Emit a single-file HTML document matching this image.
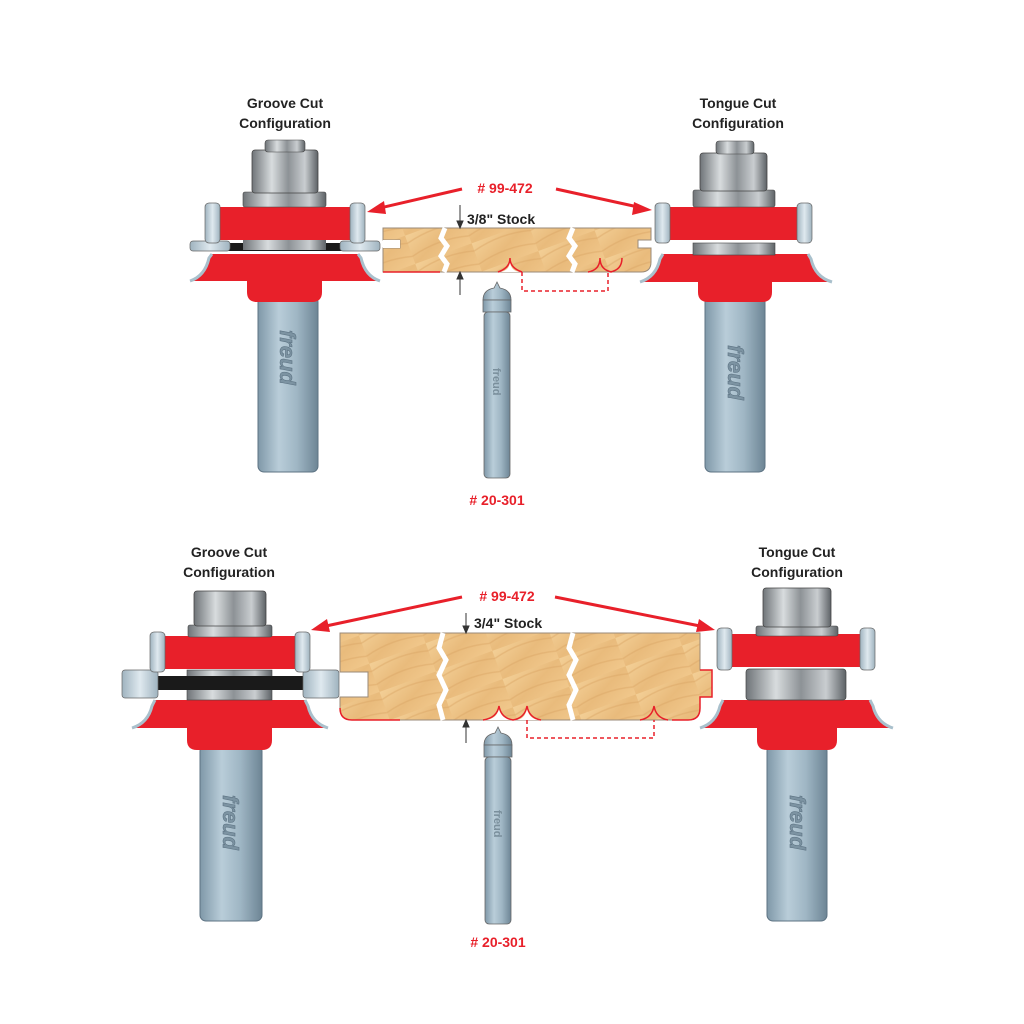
<!DOCTYPE html>
<html><head><meta charset="utf-8"><style>
html,body{margin:0;padding:0;background:#fff;}
svg{display:block}
text{font-family:"Liberation Sans",sans-serif;font-weight:bold}
</style></head><body>
<svg width="1024" height="1024" viewBox="0 0 1024 1024" xmlns="http://www.w3.org/2000/svg">
<defs>
<linearGradient id="steel" x1="0" x2="1" y1="0" y2="0">
<stop offset="0" stop-color="#6f7478"/><stop offset="0.3" stop-color="#d8dcde"/><stop offset="0.55" stop-color="#8d9296"/><stop offset="0.8" stop-color="#c9cdd0"/><stop offset="1" stop-color="#5d6266"/></linearGradient>
<linearGradient id="shank" x1="0" x2="1" y1="0" y2="0">
<stop offset="0" stop-color="#7f98a8"/><stop offset="0.35" stop-color="#b9cdd9"/><stop offset="0.65" stop-color="#9fb6c4"/><stop offset="1" stop-color="#6d8595"/></linearGradient>
<linearGradient id="bear" x1="0" x2="1" y1="0" y2="0">
<stop offset="0" stop-color="#9fb3bf"/><stop offset="0.5" stop-color="#dfe9ef"/><stop offset="1" stop-color="#9fb3bf"/></linearGradient>
<linearGradient id="wood" x1="0" x2="1" y1="0" y2="1">
<stop offset="0" stop-color="#f3cf96"/><stop offset="0.5" stop-color="#e9bb7c"/><stop offset="1" stop-color="#f1c88c"/></linearGradient>
<pattern id="grain" width="60" height="30" patternUnits="userSpaceOnUse" patternTransform="rotate(-20)">
<rect width="60" height="30" fill="url(#wood)"/>
<path d="M0,8 Q30,0 60,8 M0,22 Q30,14 60,22" stroke="#d9a465" stroke-width="1.5" fill="none" opacity="0.45"/>
</pattern>
</defs>

<g font-size="14" fill="#222" text-anchor="middle">
<text x="285" y="108">Groove Cut</text><text x="285" y="128">Configuration</text>
<text x="738" y="108">Tongue Cut</text><text x="738" y="128">Configuration</text>
<text x="229" y="557">Groove Cut</text><text x="229" y="577">Configuration</text>
<text x="797" y="557">Tongue Cut</text><text x="797" y="577">Configuration</text>
</g>
<g font-size="14" fill="#e8202a" text-anchor="middle">
<text x="505" y="193"># 99-472</text>
<text x="497" y="505"># 20-301</text>
<text x="507" y="601"># 99-472</text>
<text x="498" y="947"># 20-301</text>
</g>
<g font-size="14" fill="#222">
<text x="467" y="224">3/8" Stock</text>
<text x="474" y="628">3/4" Stock</text>
</g>
<g stroke="#e8202a" stroke-width="3" fill="#e8202a">
<line x1="462" y1="189" x2="380" y2="208"/><polygon points="367,212 384,201 386,214" stroke="none"/>
<line x1="556" y1="189" x2="638" y2="207"/><polygon points="652,210 634,202 632,215" stroke="none"/>
<line x1="462" y1="597" x2="326" y2="626"/><polygon points="311,630 327,619 330,632" stroke="none"/>
<line x1="555" y1="597" x2="700" y2="626"/><polygon points="715,630 699,619 696,632" stroke="none"/>
</g>

<g>
<path d="M383,228 H651 V240 H638 V248 H651 V262 Q651,272 641,272 H383 Q383,262 383,256 V248 H400 V240 H383 Z" fill="url(#grain)" stroke="#9a8a78" stroke-width="1"/>
<rect x="383" y="240" width="17" height="8" fill="#fff"/>
<path d="M498,272 Q510,272 510,260 Q510,272 522,272 Z" fill="#fff"/>
<path d="M498,272 Q510,268 510,258 Q510,268 522,272" stroke="#e8202a" fill="none" stroke-width="1.5"/>
<path d="M610,272 Q622,270 622,258" stroke="#e8202a" fill="none" stroke-width="1.5"/>
<path d="M588,272 Q600,270 600,258 Q600,270 612,272" stroke="#e8202a" fill="none" stroke-width="1.5"/>
<line x1="383" y1="272" x2="440" y2="272" stroke="#e8202a" stroke-width="1.5"/>
<path d="M445,228 L441,238 L447,246 L441,256 L447,264 L444,272" stroke="#fff" stroke-width="5" fill="none"/>
<path d="M573,228 L569,238 L575,246 L569,256 L575,264 L572,272" stroke="#fff" stroke-width="5" fill="none"/>
</g>
<g stroke="#333" stroke-width="1" fill="#333">
<line x1="460" y1="205" x2="460" y2="227"/><polygon points="457,221 463,221 460,228"/>
<line x1="460" y1="273" x2="460" y2="295"/><polygon points="457,279 463,279 460,272"/>
</g>
<path d="M522,272 V291 H608 V272" stroke="#e8202a" stroke-width="1.5" stroke-dasharray="4,3" fill="none"/>

<g>
<path d="M483,300 Q483,290 494,288 L497,282 L500,288 Q511,290 511,300 Z" fill="url(#shank)" stroke="#666" stroke-width="0.8"/>
<rect x="483" y="300" width="28" height="12" fill="url(#shank)" stroke="#666" stroke-width="0.8"/>
<rect x="484" y="312" width="26" height="166" rx="4" fill="url(#shank)" stroke="#666" stroke-width="0.8"/>
<text x="0" y="0" font-size="11" fill="#7a8f9c" transform="translate(493,368) rotate(90)">freud</text>
</g>

<g>
<path d="M340,633 H700 V670 H712 V697 H700 V708 Q700,720 688,720 H352 Q340,720 340,708 V697 H368 V672 H340 Z" fill="url(#grain)" stroke="#9a8a78" stroke-width="1"/>
<path d="M483,720 Q497,720 499,708 Q501,720 515,720 Q525,720 527,708 Q529,720 541,720 Z" fill="#fff"/>
<path d="M483,720 Q497,718 499,706 Q501,718 513,720 Q525,718 527,706 Q529,718 541,720" stroke="#e8202a" fill="none" stroke-width="1.5"/>
<path d="M640,720 Q652,718 654,706 Q656,718 668,720" stroke="#e8202a" fill="none" stroke-width="1.5"/>
<path d="M340,708 Q340,720 352,720 H400" stroke="#e8202a" fill="none" stroke-width="1.5"/>
<path d="M672,720 H688 Q700,720 700,708 V697 H712 V670 H700" stroke="#e8202a" fill="none" stroke-width="1.5"/>
<path d="M443,633 L439,648 L446,660 L439,675 L446,690 L439,705 L443,720" stroke="#fff" stroke-width="5" fill="none"/>
<path d="M573,633 L569,648 L576,660 L569,675 L576,690 L569,705 L573,720" stroke="#fff" stroke-width="5" fill="none"/>
</g>
<g stroke="#333" stroke-width="1" fill="#333">
<line x1="466" y1="613" x2="466" y2="632"/><polygon points="463,626 469,626 466,633"/>
<line x1="466" y1="721" x2="466" y2="743"/><polygon points="463,727 469,727 466,720"/>
</g>
<path d="M527,720 V738 H654 V720" stroke="#e8202a" stroke-width="1.5" stroke-dasharray="4,3" fill="none"/>
<g>
<path d="M484,745 Q484,735 495,733 L498,727 L501,733 Q512,735 512,745 Z" fill="url(#shank)" stroke="#666" stroke-width="0.8"/>
<rect x="484" y="745" width="28" height="12" fill="url(#shank)" stroke="#666" stroke-width="0.8"/>
<rect x="485" y="757" width="26" height="167" rx="4" fill="url(#shank)" stroke="#666" stroke-width="0.8"/>
<text x="0" y="0" font-size="11" fill="#7a8f9c" transform="translate(494,810) rotate(90)">freud</text>
</g>

<g>
<rect x="258" y="296" width="60" height="176" rx="6" fill="url(#shank)" stroke="#5d7383"/>
<text x="0" y="0" font-size="22" fill="#7c93a2" stroke="#5d7383" stroke-width="0.6" transform="translate(280,330) rotate(90)" font-style="italic">freud</text>
<path d="M247,280 H322 V292 Q322,302 312,302 H257 Q247,302 247,292 Z" fill="#e8202a"/>
<path d="M190,281 Q205,276 209,258 L212,254 H358 L361,258 Q365,276 380,281 Z" fill="#e8202a"/>
<path d="M190,281 Q205,276 209,258 L212,254" stroke="#a9c0cc" stroke-width="3" fill="none"/>
<path d="M380,281 Q365,276 361,258 L358,254" stroke="#a9c0cc" stroke-width="3" fill="none"/>
<rect x="193" y="243" width="185" height="8" fill="#1a1a1a"/>
<rect x="190" y="241" width="40" height="10" rx="3" fill="url(#bear)" stroke="#666" stroke-width="0.7"/>
<rect x="340" y="241" width="40" height="10" rx="3" fill="url(#bear)" stroke="#666" stroke-width="0.7"/>
<rect x="243" y="240" width="83" height="10" fill="url(#steel)"/>
<rect x="220" y="207" width="130" height="33" fill="#e8202a"/>
<rect x="205" y="203" width="15" height="40" rx="4" fill="url(#bear)" stroke="#666" stroke-width="0.7"/>
<rect x="350" y="203" width="15" height="40" rx="4" fill="url(#bear)" stroke="#666" stroke-width="0.7"/>
<rect x="243" y="192" width="83" height="15" rx="2" fill="url(#steel)" stroke="#444" stroke-width="0.6"/>
<rect x="252" y="150" width="66" height="43" rx="3" fill="url(#steel)" stroke="#444" stroke-width="0.8"/>
<rect x="265" y="140" width="40" height="12" rx="3" fill="url(#steel)" stroke="#444" stroke-width="0.6"/>
</g>

<g>
<rect x="705" y="296" width="60" height="176" rx="6" fill="url(#shank)" stroke="#5d7383"/>
<text x="0" y="0" font-size="22" fill="#7c93a2" stroke="#5d7383" stroke-width="0.6" transform="translate(728,345) rotate(90)" font-style="italic">freud</text>
<path d="M698,280 H772 V292 Q772,302 762,302 H708 Q698,302 698,292 Z" fill="#e8202a"/>
<path d="M640,282 Q656,277 660,259 L663,254 H808 L811,259 Q815,277 832,282 Z" fill="#e8202a"/>
<path d="M640,282 Q656,277 660,259 L663,254" stroke="#a9c0cc" stroke-width="3" fill="none"/>
<path d="M832,282 Q815,277 811,259 L808,254" stroke="#a9c0cc" stroke-width="3" fill="none"/>
<rect x="693" y="243" width="82" height="12" fill="url(#steel)" stroke="#444" stroke-width="0.6"/>
<rect x="668" y="207" width="132" height="33" fill="#e8202a"/>
<rect x="655" y="203" width="15" height="40" rx="4" fill="url(#bear)" stroke="#666" stroke-width="0.7"/>
<rect x="797" y="203" width="15" height="40" rx="4" fill="url(#bear)" stroke="#666" stroke-width="0.7"/>
<rect x="693" y="190" width="82" height="17" rx="2" fill="url(#steel)" stroke="#444" stroke-width="0.6"/>
<rect x="700" y="153" width="67" height="38" rx="3" fill="url(#steel)" stroke="#444" stroke-width="0.8"/>
<rect x="716" y="141" width="38" height="13" rx="3" fill="url(#steel)" stroke="#444" stroke-width="0.6"/>
</g>

<g>
<rect x="200" y="745" width="62" height="176" rx="6" fill="url(#shank)" stroke="#5d7383"/>
<text x="0" y="0" font-size="22" fill="#7c93a2" stroke="#5d7383" stroke-width="0.6" transform="translate(223,795) rotate(90)" font-style="italic">freud</text>
<path d="M187,726 H272 V740 Q272,750 262,750 H197 Q187,750 187,740 Z" fill="#e8202a"/>
<path d="M132,728 Q148,723 152,706 L155,700 H305 L308,706 Q312,723 328,728 Z" fill="#e8202a"/>
<path d="M132,728 Q148,723 152,706 L155,700" stroke="#a9c0cc" stroke-width="3" fill="none"/>
<path d="M328,728 Q312,723 308,706 L305,700" stroke="#a9c0cc" stroke-width="3" fill="none"/>
<rect x="187" y="670" width="85" height="30" fill="url(#steel)" stroke="#444" stroke-width="0.6"/>
<rect x="155" y="676" width="150" height="14" fill="#1a1a1a"/>
<rect x="122" y="670" width="36" height="28" rx="3" fill="url(#bear)" stroke="#666" stroke-width="0.7"/>
<rect x="303" y="670" width="36" height="28" rx="3" fill="url(#bear)" stroke="#666" stroke-width="0.7"/>
<rect x="165" y="636" width="130" height="33" fill="#e8202a"/>
<rect x="150" y="632" width="15" height="40" rx="4" fill="url(#bear)" stroke="#666" stroke-width="0.7"/>
<rect x="295" y="632" width="15" height="40" rx="4" fill="url(#bear)" stroke="#666" stroke-width="0.7"/>
<rect x="188" y="625" width="84" height="12" rx="2" fill="url(#steel)" stroke="#444" stroke-width="0.6"/>
<rect x="194" y="591" width="72" height="35" rx="3" fill="url(#steel)" stroke="#444" stroke-width="0.8"/>
</g>

<g>
<rect x="767" y="745" width="60" height="176" rx="6" fill="url(#shank)" stroke="#5d7383"/>
<text x="0" y="0" font-size="22" fill="#7c93a2" stroke="#5d7383" stroke-width="0.6" transform="translate(790,795) rotate(90)" font-style="italic">freud</text>
<path d="M757,726 H837 V740 Q837,750 827,750 H767 Q757,750 757,740 Z" fill="#e8202a"/>
<path d="M700,728 Q716,723 720,706 L723,700 H870 L873,706 Q877,723 893,728 Z" fill="#e8202a"/>
<path d="M700,728 Q716,723 720,706 L723,700" stroke="#a9c0cc" stroke-width="3" fill="none"/>
<path d="M893,728 Q877,723 873,706 L870,700" stroke="#a9c0cc" stroke-width="3" fill="none"/>
<rect x="746" y="669" width="100" height="31" rx="3" fill="url(#steel)" stroke="#444" stroke-width="0.7"/>
<rect x="731" y="634" width="131" height="33" fill="#e8202a"/>
<rect x="717" y="628" width="15" height="42" rx="4" fill="url(#bear)" stroke="#666" stroke-width="0.7"/>
<rect x="860" y="628" width="15" height="42" rx="4" fill="url(#bear)" stroke="#666" stroke-width="0.7"/>
<rect x="756" y="626" width="82" height="10" rx="2" fill="url(#steel)" stroke="#444" stroke-width="0.6"/>
<rect x="763" y="588" width="68" height="39" rx="3" fill="url(#steel)" stroke="#444" stroke-width="0.8"/>
</g>
</svg>
</body></html>
